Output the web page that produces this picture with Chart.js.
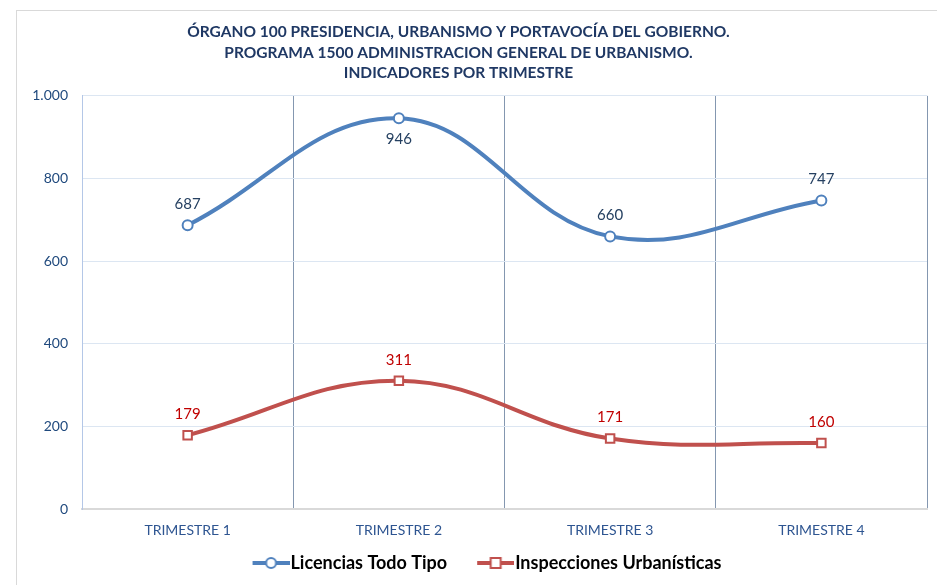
<!DOCTYPE html>
<html>
<head>
<meta charset="utf-8">
<script src="https://cdn.jsdelivr.net/npm/chart.js@4"></script>
<style>
  body { margin: 0; background: #fff; }
  #wrap { width: 937px; height: 585px; }
</style>
</head>
<body>
<div id="wrap"><canvas id="myChart" width="937" height="585"></canvas></div>
<script>
// datos
const trimestres = ['TRIMESTRE 1', 'TRIMESTRE 2', 'TRIMESTRE 3', 'TRIMESTRE 4'];
const licencias = [687, 946, 660, 747];
const inspecciones = [179, 311, 171, 160];
const yMin = 0, yMax = 1000, yStep = 200;
const tituloLineas = [
  'ÓRGANO 100 PRESIDENCIA, URBANISMO Y PORTAVOCÍA DEL GOBIERNO.',
  'PROGRAMA 1500 ADMINISTRACION GENERAL DE URBANISMO.',
  'INDICADORES POR TRIMESTRE'
];
// posicion de la etiqueta de cada punto: -1 arriba, 1 abajo
const posLicencias = [-1, 1, -1, -1];
const posInspecciones = [-1, -1, -1, -1];

const AZUL = '#4f81bd';
const ROJO = '#c0504d';
const FONT = 'Lato, "Open Sans", sans-serif';

// miles con punto, como en el original (1.000)
function formatoES(v) {
  return String(v).replace(/\B(?=(\d{3})+(?!\d))/g, '.');
}

// icono de leyenda: linea + marcador (se dibuja pegado al texto)
function iconoLeyenda(color, tipo) {
  const c = document.createElement('canvas');
  c.width = 68; c.height = 14;
  const g = c.getContext('2d');
  const x0 = 31, x1 = 68, xm = (x0 + x1) / 2;
  g.strokeStyle = color;
  g.lineWidth = 4;
  g.beginPath(); g.moveTo(x0, 7); g.lineTo(x1, 7); g.stroke();
  g.fillStyle = '#fff';
  g.lineWidth = 2;
  if (tipo === 'circle') {
    g.beginPath(); g.arc(xm, 7, 5, 0, Math.PI * 2); g.fill(); g.stroke();
  } else {
    g.fillRect(xm - 5, 2, 10, 10); g.strokeRect(xm - 5, 2, 10, 10);
  }
  return c;
}

// marco gris exterior del grafico
const marco = {
  id: 'marco',
  beforeDraw(chart) {
    const ctx = chart.ctx;
    ctx.save();
    ctx.fillStyle = '#fff';
    ctx.fillRect(0, 0, chart.width, chart.height);
    ctx.strokeStyle = '#d9d9d9';
    ctx.lineWidth = 1;
    ctx.strokeRect(16.5, 10.5, chart.width + 20, chart.height + 20);
    ctx.restore();
  }
};

// pequeños ajustes horizontales del titulo y la leyenda
const ajuste = {
  id: 'ajuste',
  afterLayout(chart) {
    if (chart.legend) { chart.legend.left += 12; chart.legend.right += 12; }
    if (chart.titleBlock) { chart.titleBlock.left -= 5; chart.titleBlock.right -= 5; }
  }
};

// etiquetas de datos
const etiquetas = {
  id: 'etiquetas',
  afterDatasetsDraw(chart) {
    const ctx = chart.ctx;
    ctx.save();
    ctx.font = '15px ' + FONT;
    ctx.textAlign = 'center';
    ctx.textBaseline = 'middle';
    chart.data.datasets.forEach((ds, i) => {
      const meta = chart.getDatasetMeta(i);
      ctx.fillStyle = ds.labelColor;
      meta.data.forEach((pt, j) => {
        const dir = ds.labelPos[j];
        ctx.fillText(formatoES(ds.data[j]), pt.x, pt.y + dir * 21);
      });
    });
    ctx.restore();
  }
};

const config = {
  type: 'line',
  data: {
    labels: trimestres,
    datasets: [
      {
        label: 'Licencias Todo Tipo',
        data: licencias,
        borderColor: AZUL,
        backgroundColor: '#fff',
        borderWidth: 4,
        tension: 0.4,
        pointStyle: 'circle',
        pointRadius: 5,
        pointBorderWidth: 2,
        pointBorderColor: AZUL,
        pointBackgroundColor: '#fff',
        labelColor: '#254061',
        labelPos: posLicencias,
        legendIcon: iconoLeyenda(AZUL, 'circle')
      },
      {
        label: 'Inspecciones Urbanísticas',
        data: inspecciones,
        borderColor: ROJO,
        backgroundColor: '#fff',
        borderWidth: 4,
        tension: 0.4,
        pointStyle: 'rect',
        pointRadius: 6,
        pointBorderWidth: 2,
        pointBorderColor: ROJO,
        pointBackgroundColor: '#fff',
        labelColor: '#c00000',
        labelPos: posInspecciones,
        legendIcon: iconoLeyenda(ROJO, 'rect')
      }
    ]
  },
  options: {
    responsive: false,
    devicePixelRatio: 1,
    animation: false,
    layout: { padding: { left: 0, right: 10, top: 0, bottom: 3 } },
    plugins: {
      title: {
        display: true,
        text: tituloLineas,
        color: '#1f3864',
        font: { family: FONT, size: 15.5, weight: 'bold', lineHeight: 1.32 },
        padding: { top: 22, bottom: 12.5 }
      },
      legend: {
        position: 'bottom',
        labels: {
          usePointStyle: true,
          pointStyleWidth: 52,
          padding: 7,
          color: '#000',
          font: { family: FONT, size: 18, weight: 'bold' },
          generateLabels(chart) {
            return chart.data.datasets.map((ds, i) => ({
              text: ds.label,
              pointStyle: ds.legendIcon,
              fillStyle: ds.borderColor,
              strokeStyle: ds.borderColor,
              lineWidth: 0,
              fontColor: '#000',
              datasetIndex: i,
              hidden: false
            }));
          }
        }
      },
      tooltip: { enabled: false }
    },
    scales: {
      x: {
        offset: true,
        grid: {
          offset: true,
          drawTicks: false,
          color: (c) => (c.index === 0 ? '#b4c7e7' : (c.index === trimestres.length ? '#b4c7e7' : '#8497b0')),
          lineWidth: 1
        },
        border: { color: '#d9d9d9', width: 2 },
        ticks: {
          color: '#2e5591',
          padding: 13,
          font: { family: FONT, size: 14 }
        },
        afterFit(scale) { scale.height = scale.height - 5; }
      },
      y: {
        min: yMin,
        max: yMax,
        grid: { color: '#dce6f2', drawTicks: false },
        border: { color: '#b4c7e7' },
        ticks: {
          stepSize: yStep,
          color: '#1f497d',
          padding: 14,
          font: { family: FONT, size: 14 },
          callback: (v) => formatoES(v)
        },
        afterFit(scale) { scale.width = 82; }
      }
    }
  },
  plugins: [marco, ajuste, etiquetas]
};

const ctx = document.getElementById('myChart').getContext('2d');
const myChart = new Chart(ctx, config);
</script>
</body>
</html>
